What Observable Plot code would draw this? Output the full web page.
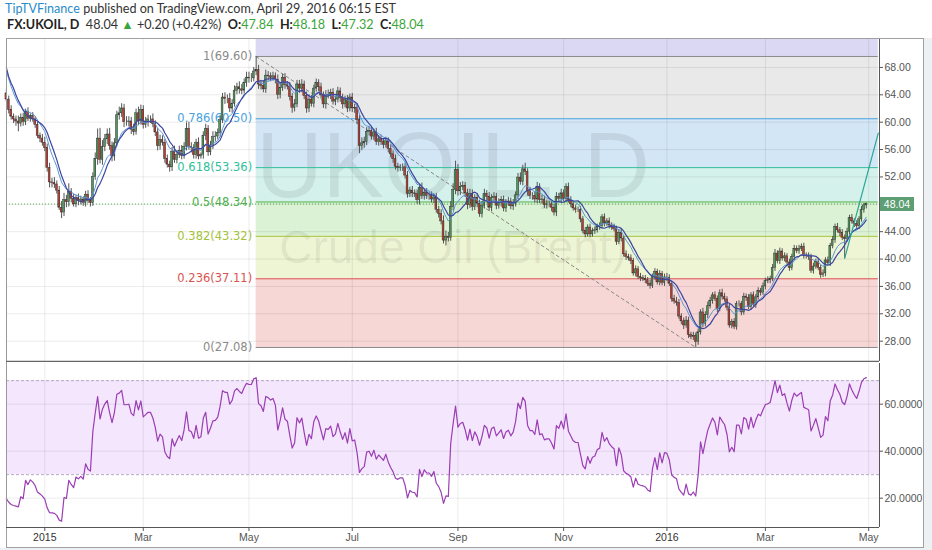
<!DOCTYPE html>
<html>
<head>
<meta charset="utf-8">
<script src="https://cdn.jsdelivr.net/npm/d3@7"></script>
<script src="https://cdn.jsdelivr.net/npm/@observablehq/plot@0.6"></script>
<style>
html,body{margin:0;padding:0;background:#fff;}
#root{position:relative;width:932px;height:550px;overflow:hidden;background:#fff;}
#hdr1{position:absolute;left:5px;top:1px;font-family:Lato,sans-serif;font-size:12.6px;color:#333;white-space:nowrap;}
#hdr1 .who{color:#2a8cc7;}
#hdr2{position:absolute;left:7px;top:17px;font-family:Lato,sans-serif;font-size:12.6px;color:#333;white-space:nowrap;}
#hdr2 b{color:#222;}
#hdr2 .g{color:#3aa63a;}
#frame{position:absolute;left:6px;top:38px;width:918px;height:510px;border:1px solid #a0a0a0;box-sizing:border-box;}
#below{position:absolute;left:0;top:548px;width:932px;height:2px;background:#eef1f4;}
#rightbg{position:absolute;left:924px;top:38px;width:8px;height:512px;background:#eef1f4;}
.pane{position:absolute;left:0;}
#pricebox{position:absolute;left:880px;width:34px;height:14px;background:#5d9e74;color:#fff;font:10.5px 'Liberation Sans',Arial,sans-serif;line-height:14px;text-align:center;}
</style>
</head>
<body>
<div id="root">
  <div id="hdr1"><span class="who">TipTVFinance</span> published on TradingView.com, April 29, 2016 06:15 EST</div>
  <div id="hdr2"><b>FX:UKOIL, D</b>&nbsp; 48.04 <span class="g">&#9650;</span> +0.20 (+0.42%) &nbsp;<b>O:</b><span class="g">47.84</span> &nbsp;<b>H:</b><span class="g">48.18</span> &nbsp;<b>L:</b><span class="g">47.32</span> &nbsp;<b>C:</b><span class="g">48.04</span></div>
  <div id="frame"></div>
  <div id="below"></div>
  <div id="rightbg"></div>
</div>
<script>
// ---------------- DATA (daily closes) ----------------
// closes before the first visible bar (Nov 10 - Dec 8, 2014), only used to seed MA / RSI
const warmupClose = [79.8, 79.2, 77.9, 75.4, 76.9, 76.8, 76.0, 75.6, 76.8, 77.9, 77.2, 75.8, 75.3, 70.1, 67.7, 70.0, 68.0, 67.4, 67.1, 66.6, 64.2];

const dec2014 = [63.3, 61.8, 60.8, 60.4, 60.1, 59.8, 60.6, 60.0, 61.5, 60.5, 60.9, 60.4, 59.6, 58.0, 57.6, 57.0];
const jan2015 = [56.2, 53.3, 51.2, 51.1, 50.9, 50.0, 47.5, 46.8, 48.6, 48.3, 49.8, 48.8, 48.0, 48.9, 48.5, 48.7, 48.2, 49.4, 48.5, 48.2, 52.0];
const feb2015 = [54.6, 57.6, 54.5, 56.4, 57.5, 58.2, 56.5, 55.0, 56.9, 61.0, 61.3, 62.0, 60.0, 60.0, 60.1, 58.9, 58.6, 61.3, 60.1, 61.8];
const mar2015 = [59.6, 60.0, 60.4, 60.4, 59.7, 58.5, 56.5, 57.4, 57.0, 54.6, 53.8, 53.4, 55.7, 54.5, 55.2, 55.8, 55.1, 56.4, 59.0, 56.4, 56.2, 55.2];
const apr2015 = [57.0, 55.0, 55.2, 58.0, 59.0, 55.6, 56.6, 57.8, 57.9, 58.4, 60.3, 63.6, 63.4, 63.4, 62.0, 62.7, 64.6, 65.1, 64.8, 64.6, 65.7, 66.5];
const may2015 = [66.4, 66.4, 67.4, 67.6, 65.5, 65.3, 64.8, 66.8, 66.7, 66.5, 66.7, 66.2, 64.0, 65.0, 66.5, 65.4, 65.2, 63.7, 62.1, 62.6, 65.5];
const jun2015 = [64.9, 65.5, 63.8, 62.0, 63.3, 62.7, 64.9, 65.7, 65.1, 63.9, 62.6, 64.0, 63.9, 64.3, 63.0, 63.3, 64.5, 63.5, 62.6, 63.3, 62.0, 63.6];
const jul2015 = [62.0, 62.1, 60.3, 56.5, 56.9, 57.1, 58.6, 58.7, 57.9, 58.5, 57.1, 57.5, 57.1, 56.7, 57.2, 56.1, 55.3, 54.6, 53.5, 53.3, 53.4, 53.4, 52.2];
const aug2015 = [49.5, 50.0, 49.6, 49.5, 48.6, 50.4, 49.2, 49.7, 49.2, 49.2, 48.7, 49.0, 47.2, 46.6, 45.5, 42.7, 43.2, 43.1, 47.6, 50.1, 53.0];
const sep2015 = [49.9, 50.5, 50.7, 49.6, 47.9, 49.5, 47.6, 48.9, 48.1, 46.6, 47.8, 49.5, 49.1, 47.5, 48.9, 49.1, 47.8, 48.2, 48.6, 47.4, 48.2, 48.4];
const oct2015 = [47.7, 48.1, 49.3, 51.9, 51.3, 53.1, 52.7, 49.9, 49.2, 49.2, 48.7, 50.5, 48.6, 48.7, 47.9, 48.0, 48.0, 47.5, 46.8, 49.1, 48.8, 49.6];
const nov2015 = [48.8, 50.5, 48.6, 48.0, 47.4, 47.2, 47.2, 45.8, 44.1, 43.6, 44.6, 43.6, 44.1, 44.2, 44.7, 44.8, 46.1, 45.2, 45.5, 44.9, 44.6];
const dec2015 = [44.4, 42.5, 43.8, 43.0, 40.7, 40.3, 40.1, 39.7, 37.9, 38.5, 37.4, 37.2, 37.1, 36.9, 36.4, 36.1, 37.4, 38.1, 36.6, 37.8, 36.5, 37.3];
const jan2016 = [37.2, 36.4, 34.2, 33.8, 33.6, 31.6, 30.9, 30.3, 31.0, 28.9, 28.6, 28.8, 27.9, 29.3, 32.2, 30.5, 31.8, 33.1, 33.9, 34.7];
const feb2016 = [34.2, 32.7, 35.0, 34.5, 34.1, 32.9, 30.3, 30.8, 30.1, 33.4, 33.4, 32.2, 34.5, 34.3, 33.0, 34.7, 33.3, 34.4, 35.3, 35.1, 36.0];
const mar2016 = [36.8, 36.9, 37.1, 38.7, 40.8, 39.7, 41.1, 40.1, 40.4, 39.5, 38.7, 40.3, 41.5, 41.2, 41.5, 41.8, 40.5, 40.4, 40.3, 38.3, 38.9, 39.6];
const apr2016 = [38.7, 37.7, 37.9, 39.8, 39.4, 41.9, 42.8, 44.7, 44.2, 43.8, 43.1, 42.9, 44.0, 46.0, 45.5, 45.1, 44.8, 45.8, 47.2, 47.84, 48.04];

// upper / lower wick lengths of each candle (beyond its body), same order
const wickUp = [
  0.6,0.5,0.6,0.4,0.5,0.8,0.6,0.7,0.4,0.6,0.3,0.5,0.4,0.5,0.4,0.6,
  0.8,0.6,0.7,0.6,0.8,0.5,0.6,0.9,1.0,0.7,1.2,0.5,0.7,0.4,0.6,0.5,0.4,0.5,0.6,0.5,0.6,
  0.9,1.4,1.5,0.9,0.7,0.8,0.9,0.6,0.7,0.6,0.9,0.7,0.6,0.8,0.7,0.6,0.8,0.6,0.9,0.7,
  0.6,0.7,0.6,0.5,0.8,0.5,0.6,0.7,0.6,0.5,0.6,0.5,0.6,0.8,0.6,0.7,0.8,0.6,0.9,1.0,0.6,0.5,
  0.5,0.7,0.3,0.6,0.7,0.5,0.6,0.8,0.7,0.6,0.7,0.6,0.7,0.6,0.8,0.6,0.7,0.6,0.8,0.7,0.6,0.8,
  0.8,0.7,0.6,2.0,0.7,0.6,0.7,0.8,0.6,0.5,0.6,0.5,0.7,0.6,0.5,0.6,0.5,0.6,0.5,0.7,0.6,
  0.6,0.7,0.5,0.6,0.7,0.6,0.5,0.6,0.5,0.6,0.5,0.6,0.7,0.5,0.6,0.5,0.6,0.5,0.6,0.5,0.6,0.5,
  0.6,0.5,0.6,0.7,0.8,0.7,0.6,0.7,0.6,0.5,0.6,0.5,0.6,0.5,0.6,0.5,0.6,0.5,0.6,0.5,0.4,0.5,0.6,
  0.6,0.5,0.6,0.5,0.6,0.5,0.7,0.5,0.6,0.5,0.6,0.5,0.6,0.5,0.6,0.8,0.9,0.7,0.8,0.9,1.3,
  0.8,0.7,0.6,0.5,0.6,0.7,0.6,0.5,0.6,0.5,0.6,0.7,0.5,0.6,0.5,0.6,0.5,0.6,0.5,0.6,0.5,0.6,
  0.5,0.6,0.5,0.6,0.7,0.6,0.9,0.5,0.6,0.5,0.6,0.7,0.5,0.6,0.5,0.6,0.5,0.4,0.5,0.6,0.5,0.6,
  0.5,0.5,0.6,0.5,0.4,0.5,0.4,0.5,0.4,0.5,0.4,0.5,0.4,0.5,0.4,0.5,0.4,0.5,0.4,0.5,0.4,
  0.5,0.4,0.5,0.6,0.4,0.5,0.4,0.5,0.4,0.5,0.4,0.5,0.4,0.5,0.4,0.5,0.4,0.5,0.4,0.5,0.4,0.5,
  0.6,0.5,0.4,0.5,0.6,0.5,0.4,0.5,0.6,0.5,0.4,0.5,0.4,0.5,0.4,0.6,0.5,0.6,0.5,0.4,
  0.5,0.4,0.5,0.6,0.5,0.4,0.5,0.4,0.5,0.4,0.5,0.4,0.5,0.4,0.5,0.4,0.5,0.4,0.5,0.4,0.5,
  0.4,0.5,0.4,0.5,0.6,0.4,0.5,0.4,0.5,0.4,0.5,0.4,0.5,0.4,0.5,0.4,0.5,0.4,0.5,0.4,0.5,0.4,
  0.5,0.4,0.5,0.4,0.5,0.4,0.5,0.4,0.5,0.4,0.5,0.4,0.5,0.4,0.5,0.4,0.5,0.4,0.5,0.3,0.14
];
const wickDown = [
  0.4,0.6,0.5,0.6,0.7,1.2,0.5,0.6,0.5,0.4,0.5,0.4,0.5,0.4,0.6,0.5,
  0.5,0.6,0.8,0.7,0.6,0.5,0.4,0.9,0.6,0.8,0.7,0.6,0.4,0.5,0.7,0.6,0.5,0.6,0.4,0.6,0.5,
  0.5,0.9,0.6,0.8,0.7,0.8,0.6,0.8,0.7,0.5,0.7,0.6,0.8,0.6,0.7,0.7,0.6,0.5,0.6,0.5,
  0.6,0.5,0.7,0.6,0.5,0.6,0.7,0.6,0.5,0.6,0.5,0.7,0.6,0.5,0.6,0.5,0.6,0.5,0.6,0.5,0.7,0.6,
  0.6,0.5,0.4,0.6,0.7,0.6,0.5,0.6,0.7,0.5,0.6,0.5,0.8,0.7,0.6,0.7,0.5,0.6,0.7,0.6,0.5,0.6,
  0.7,0.6,0.5,0.6,0.7,0.6,0.5,0.6,0.7,0.6,0.5,0.6,0.7,0.6,0.5,0.6,0.5,0.6,0.8,0.6,0.5,
  0.7,0.6,0.5,0.7,0.6,0.5,0.6,0.5,0.6,0.5,0.6,0.7,0.5,0.6,0.5,0.6,0.5,0.6,0.7,0.5,0.6,0.5,
  0.6,0.7,0.6,1.1,0.6,0.7,0.5,0.6,0.5,0.6,0.5,0.6,0.5,0.6,0.5,0.6,0.5,0.6,0.5,0.6,0.5,0.6,0.5,
  0.6,0.5,0.6,0.5,0.6,0.7,0.5,0.6,0.5,0.6,0.5,0.6,0.5,0.6,0.5,0.5,0.8,0.6,0.5,0.6,0.7,
  0.7,0.6,0.5,0.6,0.7,0.5,0.6,0.5,0.6,0.5,0.6,0.5,0.6,0.5,0.6,0.5,0.6,0.5,0.6,0.5,0.6,0.5,
  0.5,0.6,0.5,0.6,0.5,0.6,0.5,0.7,0.5,0.6,0.5,0.6,0.5,0.6,0.5,0.6,0.5,0.6,0.5,0.6,0.5,0.6,
  0.4,0.5,0.4,0.5,0.4,0.5,0.4,0.5,0.4,0.5,0.4,0.5,0.4,0.5,0.4,0.5,0.4,0.5,0.4,0.5,0.4,
  0.4,0.5,0.4,0.5,0.4,0.5,0.4,0.5,0.4,0.5,0.4,0.5,0.4,0.5,0.4,0.5,0.4,0.5,0.4,0.5,0.4,0.5,
  0.5,0.4,0.5,0.4,0.5,0.4,0.5,0.6,0.4,0.5,0.4,0.5,0.8,0.5,0.4,0.5,0.4,0.5,0.4,0.5,
  0.4,0.5,0.4,0.5,0.4,0.5,0.4,0.5,0.4,0.5,0.4,0.5,0.4,0.5,0.4,0.5,0.4,0.5,0.4,0.5,0.4,
  0.5,0.4,0.5,0.4,0.5,0.4,0.5,0.4,0.5,0.4,0.5,0.4,0.5,0.4,0.5,0.4,0.5,0.4,0.5,0.4,0.5,0.4,
  0.4,0.5,0.4,0.5,0.4,0.5,0.4,0.5,0.4,0.5,0.4,2.8,0.4,0.5,0.4,0.5,0.4,0.5,0.4,0.5,0.52
];

// Fibonacci retracement drawn on the chart (swing high May 2015 -> low Jan 2016)
const fibHigh = 69.60, fibLow = 27.08;
const fibLevels = [0, 0.236, 0.382, 0.5, 0.618, 0.786, 1, 1.618];
const fibLineColors = ["#8a8a8a", "#d9534f", "#a3c13a", "#4cb04c", "#2fbf9c", "#4aa3df", "#8a8a8a", "#8a8a8a"];
const fibBandColors = ["#f7d6d6", "#eef5d4", "#dbf2d5", "#d5f1ec", "#d3e6f5", "#e9e9e9", "#dbd8f4"];
const fibStartDate = "2015-05-06", fibEndDate = "2016-05-06";
const trendDates = ["2015-05-06", "2016-01-20"];
// rising line drawn at the right end
const riseLine = [{date: "2016-04-18", price: 40.1}, {date: "2016-05-06", price: 58.4}];
const lastPrice = 48.04;
const priceTicks = [28, 32, 36, 40, 44, 48, 52, 56, 60, 64, 68];
const rsiTicks = [20, 40, 60];
const holidays = ["2014-12-25", "2015-01-01", "2015-12-25", "2016-01-01", "2016-03-25"];
const monthTickMonths = [0, 2, 4, 6, 8, 10];

// ---------------- BUILD ----------------
const hol = new Set(holidays);
function tradingDays(start, end) {
  const out = [];
  const e = new Date(end + "T12:00:00Z");
  for (let d = new Date(start + "T12:00:00Z"); d <= e; d.setUTCDate(d.getUTCDate() + 1)) {
    const wd = d.getUTCDay(), s = d.toISOString().slice(0, 10);
    if (wd > 0 && wd < 6 && !hol.has(s)) out.push(s);
  }
  return out;
}
const days = tradingDays("2014-12-09", "2016-05-13");
const zero = days.indexOf("2015-01-02");
const idxOf = s => days.indexOf(s) - zero;

const visClose = [].concat(dec2014, jan2015, feb2015, mar2015, apr2015, may2015, jun2015, jul2015, aug2015, sep2015, oct2015, nov2015, dec2015, jan2016, feb2016, mar2016, apr2016);
const allClose = warmupClose.concat(visClose);
const nW = warmupClose.length;

const bars = visClose.map((c, k) => {
  const o = allClose[nW + k - 1];
  return {i: k - zero, date: days[k], open: o, close: c,
          high: Math.max(o, c) + wickUp[k], low: Math.min(o, c) - wickDown[k]};
});

function sma(arr, n) { return arr.map((v, j) => j < n - 1 ? null : d3.mean(arr.slice(j - n + 1, j + 1))); }
function ema(arr, n) { const a = 2 / (n + 1); let e = arr[0]; return arr.map(v => (e = a * v + (1 - a) * e)); }
function rsi(arr, n) {
  const out = new Array(arr.length).fill(null);
  let ag = 0, al = 0;
  for (let j = 1; j < arr.length; j++) {
    const ch = arr[j] - arr[j - 1], g = Math.max(ch, 0), l = Math.max(-ch, 0);
    if (j <= n) { ag += g / n; al += l / n; if (j === n) out[j] = 100 - 100 / (1 + ag / al); }
    else { ag = (ag * (n - 1) + g) / n; al = (al * (n - 1) + l) / n; out[j] = al === 0 ? 100 : 100 - 100 / (1 + ag / al); }
  }
  return out;
}
const ma10 = sma(allClose, 10).slice(nW).map((v, k) => ({i: k - zero, v}));
const ema9 = ema(allClose, 9).slice(nW).map((v, k) => ({i: k - zero, v}));
const rsi14 = rsi(allClose, 14).slice(nW).map((v, k) => ({i: k - zero, v}));

// month ticks (first trading day of Jan, Mar, May, ...)
const monthTicks = [];
days.forEach((s, k) => {
  const m = +s.slice(5, 7) - 1;
  if (k > 0 && s.slice(0, 7) !== days[k - 1].slice(0, 7) && monthTickMonths.includes(m)) {
    monthTicks.push({i: k - zero, label: m === 0 ? s.slice(0, 4) : d3.utcFormat("%b")(new Date(s + "T12:00:00Z")), year: m === 0});
  }
});

const fibStart = idxOf(fibStartDate), fibEnd = idxOf(fibEndDate);
const fibPrice = l => fibLow + l * (fibHigh - fibLow);
const yDomain = [25.03, 72.08];
const xDomain = [-15.94, 347.5];
const fibBands = fibLevels.slice(0, -1).map((l, j) => ({
  y1: fibPrice(l), y2: Math.min(fibPrice(fibLevels[j + 1]), yDomain[1]), fill: fibBandColors[j]}));
const fibLines = fibLevels.slice(0, -1).map((l, j) => ({
  level: l, price: fibPrice(l), color: fibLineColors[j],
  label: `${l}(${fibPrice(l).toFixed(2)})`}));

const up = "#4f9c5c", down = "#c13c2e";
const baseStyle = {fontFamily: "'Liberation Sans', Arial, sans-serif", fontSize: "10.5px", background: "transparent"};

const main = Plot.plot({
  width: 932, height: 324, marginLeft: 6, marginRight: 53, marginTop: 1, marginBottom: 1,
  style: baseStyle,
  x: {type: "linear", domain: xDomain, axis: null, label: null},
  y: {domain: yDomain, axis: null, label: null},
  marks: [
    Plot.rect(fibBands, {x1: fibStart, x2: fibEnd, y1: "y1", y2: "y2", fill: d => d.fill}),
    Plot.ruleX(monthTicks, {x: "i", stroke: "#000", strokeOpacity: 0.08}),
    Plot.ruleY(priceTicks, {stroke: "#000", strokeOpacity: 0.08}),
    Plot.text(["UKOIL, D"], {frameAnchor: "middle", dx: 10, dy: -33, fontSize: 92, fontFamily: "'Liberation Sans', Arial, sans-serif", fill: "#000", fillOpacity: 0.08}),
    Plot.text(["Crude Oil (Brent)"], {frameAnchor: "middle", dx: 10, dy: 48, fontSize: 46, fontFamily: "'Liberation Sans', Arial, sans-serif", fill: "#000", fillOpacity: 0.08}),
    Plot.ruleY(fibLines, {x1: fibStart, x2: fibEnd, y: "price", stroke: d => d.color, strokeWidth: 1}),
    Plot.text(fibLines, {x: fibStart, y: "price", text: "label", textAnchor: "end", dx: -4, fill: d => d.color, fontSize: 11.5, fontFamily: "'DejaVu Sans', Verdana, sans-serif"}),
    Plot.line(trendDates.map((s, j) => ({i: idxOf(s), p: j === 0 ? fibHigh : fibLow})), {x: "i", y: "p", stroke: "#888", strokeWidth: 1, strokeDasharray: "3,3"}),
    Plot.ruleY([lastPrice], {stroke: "#4cb04c", strokeWidth: 1, strokeDasharray: "1,2"}),
    Plot.ruleX(bars, {x: "i", y1: "low", y2: "high", stroke: "#555", strokeWidth: 1}),
    Plot.rect(bars, {x1: d => d.i - 0.37, x2: d => d.i + 0.37, y1: "open", y2: "close",
      fill: d => d.close >= d.open ? up : down, stroke: "#333", strokeWidth: 0.5}),
    Plot.line(ema9, {x: "i", y: "v", stroke: "#5b96d6", strokeWidth: 1}),
    Plot.line(ma10, {x: "i", y: "v", stroke: "#3d45a0", strokeWidth: 1.2}),
    Plot.line(riseLine.map(d => ({i: idxOf(d.date), p: d.price})), {x: "i", y: "p", stroke: "#2aa59a", strokeWidth: 1.2}),
    Plot.ruleX([xDomain[0]], {stroke: "#999"}),
    Plot.ruleX([xDomain[1]], {stroke: "#555"}),
    Plot.ruleY([yDomain[0]], {stroke: "#666", strokeWidth: 1.5}),
    Plot.axisY(priceTicks, {anchor: "right", label: null, tickSize: 3, tickPadding: 2, tickFormat: d => d.toFixed(2), fill: "#555", stroke: "#555", fontSize: 10.5})
  ]
});
main.classList.add("pane");
main.style.top = "38px";
document.getElementById("root").appendChild(main);

const rsiDomain = [7.53, 77.3];
const lower = Plot.plot({
  width: 932, height: 188, marginLeft: 6, marginRight: 53, marginTop: 1, marginBottom: 23,
  style: baseStyle,
  x: {type: "linear", domain: xDomain, axis: null, label: null},
  y: {domain: rsiDomain, axis: null, label: null},
  marks: [
    Plot.rect([0], {y1: 30, y2: 70, fill: "#f3e6fd"}),
    Plot.ruleX(monthTicks, {x: "i", stroke: "#000", strokeOpacity: 0.08}),
    Plot.ruleY(rsiTicks, {stroke: "#000", strokeOpacity: 0.08}),
    Plot.ruleY([30, 70], {stroke: "#b5a8c2", strokeDasharray: "3,2"}),
    Plot.line(rsi14, {x: "i", y: "v", stroke: "#9b3db3", strokeWidth: 1.2}),
    Plot.ruleX([xDomain[0]], {stroke: "#999"}),
    Plot.ruleX([xDomain[1]], {stroke: "#555"}),
    Plot.ruleY([rsiDomain[0]], {stroke: "#555"}),
    Plot.axisY(rsiTicks, {anchor: "right", label: null, tickSize: 3, tickPadding: 2, tickFormat: d => d.toFixed(4), fill: "#555", stroke: "#555", fontSize: 10.5}),
    Plot.axisX(monthTicks.map(d => d.i), {anchor: "bottom", label: null, tickSize: 4, tickFormat: () => "", stroke: "#555"}),
    Plot.text(monthTicks, {x: "i", text: "label", frameAnchor: "bottom", lineAnchor: "top", dy: 6, fontSize: 10.5,
      fontWeight: d => d.year ? "bold" : "normal", fill: d => d.year ? "#333" : "#555"})
  ]
});
lower.classList.add("pane");
lower.style.top = "362px";
document.getElementById("root").appendChild(lower);

// last-price tag on the price axis, placed with the chart's own y scale
const tag = document.createElement("div");
tag.id = "pricebox";
tag.textContent = lastPrice.toFixed(2);
tag.style.top = (38 + main.scale("y").apply(lastPrice) - 7) + "px";
document.getElementById("root").appendChild(tag);
</script>
</body>
</html>
